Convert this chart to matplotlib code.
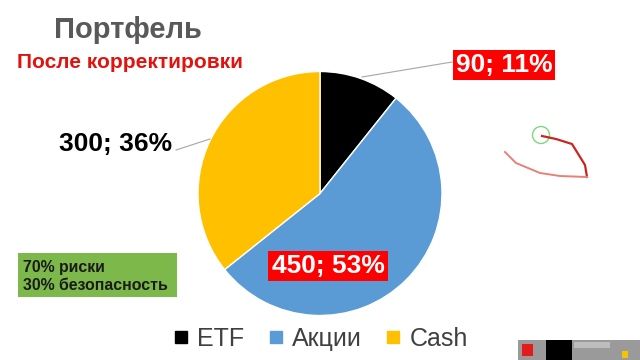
import matplotlib
matplotlib.use("Agg")
import matplotlib.pyplot as plt
from matplotlib.lines import Line2D
from matplotlib.patches import Rectangle, Circle

# ---- data ----
categories = ["ETF", "Акции", "Cash"]
values = [90, 450, 300]
percents = [11, 53, 36]
colors = ["#000000", "#5B9BD5", "#FFC000"]
title = "Портфель"
subtitle = "После корректировки"
note_lines = ["70% риски", "30% безопасность"]

W, H = 640, 360
fig = plt.figure(figsize=(W / 100, H / 100), dpi=100)
fig.patch.set_facecolor("white")


def fx(x):
    return x / W


def fy(y):
    return 1 - y / H


# pie axes: center (320,193), radius 122 px
cx, cy, r = 320, 193.5, 122
ax = fig.add_axes([fx(cx - r), fy(cy + r), 2 * r / W, 2 * r / H])
ax.pie(values, colors=colors, startangle=90, counterclock=False,
       wedgeprops=dict(edgecolor="white", linewidth=1.0))
ax.set_xlim(-1, 1)
ax.set_ylim(-1, 1)
ax.set_aspect("equal")
ax.axis("off")

bold = dict(family=["Liberation Sans", "DejaVu Sans"], weight="bold")

# title / subtitle
fig.text(fx(128), fy(38), title, ha="center", va="baseline", fontsize=21,
         color="#595959", **bold)
fig.text(fx(130), fy(68), subtitle, ha="center", va="baseline", fontsize=15,
         color="#E0140F", **bold)

# leader lines
fig.add_artist(Line2D([fx(362), fx(452)], [fy(77), fy(62)], color="#A6A6A6",
                      lw=0.8, transform=fig.transFigure))
fig.add_artist(Line2D([fx(176), fx(210)], [fy(150), fy(139)], color="#A6A6A6",
                      lw=0.8, transform=fig.transFigure))

labels = [f"{v}; {p}%" for v, p in zip(values, percents)]
# ETF label (red box)
fig.text(fx(504), fy(65), labels[0], ha="center", va="center", fontsize=19,
         color="white", bbox=dict(boxstyle="square,pad=0.12", fc="#FF0000", ec="none"),
         **bold)
# Акции label (red box)
fig.text(fx(328), fy(266), labels[1], ha="center", va="center", fontsize=19,
         color="white", bbox=dict(boxstyle="square,pad=0.12", fc="#FF0000", ec="none"),
         **bold)
# Cash label
fig.text(fx(116), fy(151), labels[2], ha="center", va="baseline", fontsize=19,
         color="black", **bold)

# green note box
fig.add_artist(Rectangle((fx(18), fy(297)), fx(177) - fx(18), fy(253) - fy(297),
                         transform=fig.transFigure, fc="#7CB84A", ec="none"))
fig.text(fx(23), fy(272), note_lines[0], ha="left", va="baseline", fontsize=11.4,
         color="#1a1a1a", **bold)
fig.text(fx(23), fy(290), note_lines[1], ha="left", va="baseline", fontsize=11.4,
         color="#1a1a1a", **bold)

# legend
handles = [Line2D([], [], marker="s", linestyle="none", markersize=8.5,
                  markerfacecolor=c, markeredgecolor=c) for c in colors]
fig.legend(handles, categories, loc="center", bbox_to_anchor=(fx(320), fy(339)),
           ncol=3, frameon=False, handletextpad=0.3, columnspacing=0.9,
           handlelength=0.7, borderpad=0, borderaxespad=0,
           prop=dict(family=["Liberation Sans Narrow", "Liberation Sans"], size=18),
           labelcolor="#404040")

# annotation scribbles
fig.add_artist(Circle((541 / 100, (H - 135) / 100), 0.085,
                      transform=fig.dpi_scale_trans,
                      fc="none", ec="#7FD67F", lw=1.0))
fig.add_artist(Line2D([fx(542), fx(556), fx(572), fx(585), fx(587)],
                      [fy(136), fy(139), fy(144), fy(165), fy(177)],
                      color="#C8261E", lw=1.6, transform=fig.transFigure))
fig.add_artist(Line2D([fx(587), fx(560), fx(540), fx(516), fx(505)],
                      [fy(177), fy(176), fy(173), fy(163), fy(152)],
                      color="#E88078", lw=1.4, transform=fig.transFigure))

# toolbar at bottom right
fig.add_artist(Rectangle((fx(518), fy(360)), fx(640) - fx(518), fy(340) - fy(360),
                         transform=fig.transFigure, fc="#9A9A9A", ec="none"))
fig.add_artist(Rectangle((fx(522), fy(356)), fx(533) - fx(522), fy(344) - fy(356),
                         transform=fig.transFigure, fc="#E41B1B", ec="none"))
fig.add_artist(Rectangle((fx(546), fy(360)), fx(572) - fx(546), fy(340) - fy(360),
                         transform=fig.transFigure, fc="#000000", ec="none"))
fig.add_artist(Rectangle((fx(574), fy(348)), fx(610) - fx(574), fy(342) - fy(348),
                         transform=fig.transFigure, fc="#BDBDBD", ec="none"))
fig.add_artist(Rectangle((fx(622), fy(358)), fx(628) - fx(622), fy(351) - fy(358),
                         transform=fig.transFigure, fc="#F5C400", ec="none"))

fig.savefig("out.png", dpi=100, facecolor="white")
